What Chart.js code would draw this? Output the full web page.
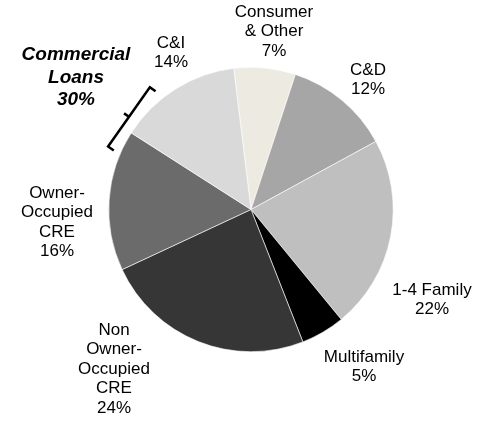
<!DOCTYPE html>
<html>
<head>
<meta charset="utf-8">
<script src="https://cdn.jsdelivr.net/npm/chart.js@4/dist/chart.umd.min.js"></script>
<style>
  html, body { margin: 0; padding: 0; background: #fff; }
  #wrap { width: 491px; height: 421px; position: relative; }
</style>
</head>
<body>
<div id="wrap"><canvas id="myChart" width="491" height="421"></canvas></div>
<script>
// loan mix, clockwise from the top
const categories = [
    ['Consumer', '& Other'],
    ['C&D'],
    ['1-4 Family'],
    ['Multifamily'],
    ['Non', 'Owner-', 'Occupied', 'CRE'],
    ['Owner-', 'Occupied', 'CRE'],
    ['C&I']
]
const shares = [7, 12, 22, 5, 24, 16, 14]
const sliceColors = ['#edebe1', '#a6a6a6', '#bfbfbf', '#000000', '#363636', '#6b6b6b', '#d9d9d9']
const groupLabel = ['Commercial', 'Loans', '30%']

// label anchors, offset from the pie centre (first line)
const labelOffsets = [
    [23, -197.5], [117, -139.5], [181, 80.5], [113, 147.5],
    [-137, 120.5], [-194, -16.5], [-80, -166.5]
]

const labelPlugin = {
    id: 'sliceLabels',
    afterDraw(chart) {
        const ctx = chart.ctx
        const arc = chart.getDatasetMeta(0).data[0]
        const cx = arc.x, cy = arc.y, r = arc.outerRadius
        ctx.save()
        ctx.fillStyle = '#000'
        ctx.textAlign = 'center'
        ctx.textBaseline = 'middle'
        ctx.font = '17px "Liberation Sans", Arial, sans-serif'
        for (let i = 0; i <= categories.length - 1; i++) {
            const lines = categories[i].concat([shares[i] + '%'])
            const [ox, oy] = labelOffsets[i]
            for (let j = 0; j <= lines.length - 1; j++) {
                ctx.fillText(lines[j], cx + ox, cy + oy + j * 19.5)
            }
        }

        // group label
        ctx.font = 'italic bold 19px "Liberation Sans", Arial, sans-serif'
        for (let j = 0; j <= groupLabel.length - 1; j++) {
            ctx.fillText(groupLabel[j], cx - 175, cy - 154.5 + j * 22.5)
        }

        // bracket beside the commercial slices
        const pt = (deg, rad) => {
            const a = (deg - 90) * Math.PI / 180
            return [cx + rad * Math.cos(a), cy + rad * Math.sin(a)]
        }
        const p1 = pt(320.4, r + 16.5)
        const p2 = pt(293.8, r + 14)
        const dx = p2[0] - p1[0], dy = p2[1] - p1[1]
        const len = Math.hypot(dx, dy)
        const nx = dy / len, ny = -dx / len   // normal pointing toward the pie
        ctx.strokeStyle = '#000'
        ctx.lineWidth = 2.5
        ctx.lineJoin = 'miter'
        ctx.beginPath()
        ctx.moveTo(p1[0] + nx * 7, p1[1] + ny * 7)
        ctx.lineTo(p1[0], p1[1])
        ctx.lineTo(p2[0], p2[1])
        ctx.lineTo(p2[0] + nx * 7, p2[1] + ny * 7)
        const mx = (p1[0] + p2[0]) / 2, my = (p1[1] + p2[1]) / 2
        ctx.moveTo(mx, my)
        ctx.lineTo(mx - nx * 6, my - ny * 6)
        ctx.stroke()
        ctx.restore()
    }
}

const ctx = document.getElementById('myChart').getContext('2d')
const myChart = new Chart(ctx, {
    type: 'pie',
    data: {
        labels: categories.map(c => c.join(' ')),
        datasets: [{
            data: shares,
            backgroundColor: sliceColors,
            borderColor: '#ffffff',
            borderWidth: 0.6
        }]
    },
    options: {
        responsive: false,
        animation: false,
        rotation: -7,
        layout: { padding: { top: 67, bottom: 69, left: 108, right: 97 } },
        plugins: {
            legend: { display: false },
            tooltip: { enabled: false }
        }
    },
    plugins: [labelPlugin]
})
</script>
</body>
</html>
